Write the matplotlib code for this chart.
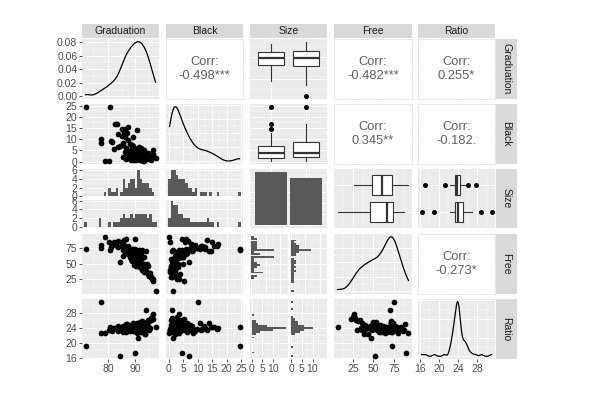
import numpy as np
import matplotlib.pyplot as plt
from matplotlib.ticker import FuncFormatter, MaxNLocator

plt.rcParams["font.family"] = ["Liberation Sans", "DejaVu Sans"]

# rows of the first Size level
grad_a = [78.9, 80.5, 80.6, 81.4, 82.3, 83.4, 83.6, 85.4, 85.6, 86.1, 86.2, 86.3, 86.6, 86.9, 87.3, 87.5,
          87.9, 88.2, 88.4, 88.7, 88.9, 89.2, 89.4, 89.6, 89.8, 90.1, 90.3, 90.82, 90.85, 91.0, 91.2, 91.4,
          91.55, 91.9, 92.1, 92.3, 92.5, 92.8, 93.1, 93.3, 93.6, 93.9, 94.2, 94.5, 94.8, 95.1, 95.5, 95.9, 96.4]
black_a = [0.2, 0.3, 24.5, 9.0, 5.5, 16.8, 12.2, 7.6, 8.5, 14.5, 4.3, 11.0, 6.0, 12.6, 9.8, 3.5,
           2.1, 8.0, 5.0, 6.8, 1.9, 7.2, 0.9, 4.0, 4.6, 5.8, 1.2, 3.2, 2.8, 1.5, 6.4, 4.9,
           0.6, 5.2, 2.5, 1.0, 4.1, 3.0, 0.5, 3.7, 2.0, 1.4, 2.6, 1.7, 2.3, 1.1, 1.6, 0.7, 3.4]
free_a = [93, 85, 72, 80, 84, 78, 76, 82, 72.5, 71, 68, 79, 89, 73, 75, 66,
          60, 71, 60.5, 73, 55, 71.5, 48, 61, 90, 65, 52, 59.5, 59, 47, 72, 61,
          45, 67, 57, 40, 60, 50, 36, 60, 43, 36.5, 49, 35, 46, 31, 35, 29, 26]
ratio_a = [22.6, 23.5, 24.3, 23.2, 24.0, 23.8, 24.5, 23.6, 22.9, 24.2, 23.9, 23.3, 25.0, 24.0, 23.7, 24.3,
           23.1, 24.6, 23.8, 24.1, 23.4, 24.8, 23.5, 23.2, 17.2, 24.0, 23.9, 24.4, 23.0, 21.2, 25.2, 23.6,
           24.1, 23.8, 22.8, 24.7, 23.6, 25.4, 23.3, 24.2, 22.4, 24.0, 25.6, 23.7, 24.5, 25.8, 23.9, 26.0, 27.7]

# rows of the second Size level
grad_b = [71.8, 77.3, 77.5, 81.0, 82.6, 83.7, 84.5, 85.0, 85.3, 85.6, 85.9, 86.3, 86.7, 87.1, 87.5,
          87.9, 88.3, 88.7, 89.0, 89.3, 89.6, 89.9, 90.2, 90.5, 90.8, 91.1, 91.4, 91.7, 92.0, 92.3,
          92.6, 92.9, 93.2, 93.5, 93.8, 94.1, 94.4, 94.8, 95.2, 95.6, 96.0, 96.4, 97.4]
black_b = [24.5, 10.0, 8.4, 9.2, 17.0, 6.6, 7.0, 14.8, 11.6, 2.1, 13.2, 12.4, 1.3, 4.5, 15.5,
           3.0, 0.8, 7.6, 2.7, 10.8, 1.6, 5.8, 0.6, 14.0, 3.4, 1.1, 4.8, 2.3, 6.2, 1.4,
           3.6, 0.4, 5.0, 2.0, 1.0, 3.3, 1.9, 4.0, 2.5, 1.2, 2.8, 5.4, 1.5]
free_b = [73, 75, 80, 77, 82, 86, 52, 84, 78, 62, 88, 76, 72, 71.5, 79,
          66, 58, 72, 68, 74, 55, 73, 46, 71, 64, 48, 69, 53, 67, 42,
          72, 40, 50, 38, 70, 45, 36, 33, 30, 28, 25, 22, 6]
ratio_b = [19.1, 31.0, 22.7, 23.5, 24.0, 23.2, 16.4, 24.3, 23.8, 24.5, 23.4, 24.1, 22.9, 25.0, 24.2,
           23.6, 24.8, 23.9, 23.1, 25.3, 24.4, 23.7, 24.0, 25.4, 22.5, 24.6, 23.3, 25.6, 23.0, 24.2,
           25.8, 23.8, 24.3, 22.3, 28.9, 24.1, 25.2, 26.0, 23.5, 26.6, 27.0, 26.3, 24.3]

var_names = ["Graduation", "Black", "Size", "Free", "Ratio"]
corr_labels = {(0, 1): "-0.498***", (0, 3): "-0.482***", (0, 4): "0.255*",
               (1, 3): "0.345**", (1, 4): "-0.182.", (3, 4): "-0.273*"}

groups = {
    "Graduation": (grad_a, grad_b),
    "Black": (black_a, black_b),
    "Free": (free_a, free_b),
    "Ratio": (ratio_a, ratio_b),
}
breaks = {
    "Graduation": ([80, 90], [75, 85, 95]),
    "Black": ([0, 5, 10, 15, 20, 25], [2.5, 7.5, 12.5, 17.5, 22.5]),
    "Free": ([25, 50, 75], [12.5, 37.5, 62.5, 87.5]),
    "Ratio": ([16, 20, 24, 28], [18, 22, 26, 30]),
}

W, H = 591, 397
col_x = [(82, 159), (166, 243), (250, 327), (334, 412), (418, 495)]
row_y = [(39, 99), (104, 164), (169, 228), (234, 294), (299, 359)]

GREY_BG = "#EBEBEB"
BAR = "#595959"
EDGE = "#333333"
TXT = "#4D4D4D"

fig = plt.figure(figsize=(W / 100, H / 100), dpi=100)


def add_ax(x0, y0, x1, y1):
    return fig.add_axes([x0 / W, 1 - y1 / H, (x1 - x0) / W, (y1 - y0) / H])


def all_vals(name):
    a, b = groups[name]
    return np.array(a + b, dtype=float)


def lims(v):
    lo, hi = min(v), max(v)
    d = (hi - lo) * 0.05
    return lo - d, hi + d


def style(ax, xlim, ylim, xb, yb, show_x, show_y):
    ax.set_facecolor(GREY_BG)
    for s in ax.spines.values():
        s.set_visible(False)
    ax.set_xlim(xlim)
    ax.set_ylim(ylim)
    ax.set_xticks(xb[0])
    ax.set_xticks(xb[1], minor=True)
    ax.set_yticks(yb[0])
    ax.set_yticks(yb[1], minor=True)
    ax.set_axisbelow(True)
    ax.grid(True, which="major", color="white", lw=0.7)
    ax.grid(True, which="minor", color="white", lw=0.35)
    ax.tick_params(which="minor", length=0)
    ax.tick_params(which="major", length=2.2, width=0.6, color=EDGE,
                   labelsize=7.5, labelcolor=TXT, pad=1.2)
    ax.tick_params(axis="x", bottom=show_x, labelbottom=show_x)
    ax.tick_params(axis="y", left=show_y, labelleft=show_y)
    fmt = FuncFormatter(lambda v, p: f"{v:g}")
    ax.xaxis.set_major_formatter(fmt)
    ax.yaxis.set_major_formatter(fmt)


def kde(v):
    v = np.asarray(v, dtype=float)
    n = len(v)
    q75, q25 = np.percentile(v, [75, 25])
    bw = 0.9 * min(v.std(ddof=1), (q75 - q25) / 1.34) * n ** -0.2
    xs = np.linspace(v.min(), v.max(), 512)
    ys = np.exp(-0.5 * ((xs[:, None] - v[None, :]) / bw) ** 2).sum(1) / (n * bw * np.sqrt(2 * np.pi))
    return xs, ys


def bin_edges(v):
    lo, hi = min(v), max(v)
    w = (hi - lo) / 29
    return lo - w / 2 + w * np.arange(31)


def boxes(ax, data, orient):
    ax.boxplot(data, positions=[1, 2], widths=0.75, orientation=orient, patch_artist=True,
               showcaps=False,
               boxprops=dict(facecolor="white", edgecolor=EDGE, lw=0.8),
               medianprops=dict(color=EDGE, lw=1.6),
               whiskerprops=dict(color=EDGE, lw=0.8),
               flierprops=dict(marker="o", markerfacecolor="black", markeredgecolor="none",
                               markersize=3.6))


size_counts = [len(grad_a), len(grad_b)]
cat_breaks = ([1, 2], [])

for i, rname in enumerate(var_names):
    y0, y1 = row_y[i]
    for j, cname in enumerate(var_names):
        x0, x1 = col_x[j]
        show_x = i == 4
        show_y = j == 0

        # upper triangle
        if i < j:
            if cname == "Size":
                ax = add_ax(x0, y0, x1, y1)
                style(ax, (0.4, 2.6), lims(all_vals(rname)), cat_breaks, breaks[rname], show_x, show_y)
                boxes(ax, list(groups[rname]), "vertical")
                ax.set_xticks([1, 2])
            elif rname == "Size":
                ax = add_ax(x0, y0, x1, y1)
                style(ax, lims(all_vals(cname)), (0.4, 2.6), breaks[cname], cat_breaks, show_x, show_y)
                a, b = groups[cname]
                boxes(ax, [b, a], "horizontal")
                ax.set_yticks([1, 2])
            else:
                ax = add_ax(x0, y0, x1, y1)
                ax.set_facecolor("white")
                ax.set_xticks([])
                ax.set_yticks([])
                for s in ax.spines.values():
                    s.set_color("#DDDDDD")
                    s.set_linestyle(":")
                    s.set_lw(0.6)
                ax.text(0.5, 0.5, "Corr:\n" + corr_labels[(i, j)], ha="center", va="center",
                        fontsize=9.3, color="#606060", linespacing=1.15, transform=ax.transAxes)
            continue

        # diagonal
        if i == j:
            ax = add_ax(x0, y0, x1, y1)
            if rname == "Size":
                top = max(size_counts)
                style(ax, (0.4, 2.6), (-0.05 * top, 1.05 * top), cat_breaks,
                      ([0, 10, 20, 30, 40], [5, 15, 25, 35, 45]), show_x, show_y)
                ax.bar([1, 2], size_counts, width=0.9, color=BAR)
            else:
                xs, ys = kde(all_vals(rname))
                top = ys.max()
                if i == 0:
                    yb = ([0, 0.02, 0.04, 0.06, 0.08], [0.01, 0.03, 0.05, 0.07])
                else:
                    mj = [t for t in MaxNLocator(4).tick_values(0, top) if 0 <= t <= top * 1.05]
                    mn = [(mj[k] + mj[k + 1]) / 2 for k in range(len(mj) - 1)]
                    yb = (mj, mn)
                style(ax, lims(all_vals(rname)), (-0.05 * top, 1.05 * top), breaks[rname], yb,
                      show_x, show_y)
                if i == 0:
                    ax.yaxis.set_major_formatter(FuncFormatter(lambda v, p: f"{v:.2f}"))
                ax.plot(xs, ys, color="black", lw=0.9)
            continue

        # lower triangle
        if rname == "Size":
            # vertical histograms faceted by Size, stacked
            edges = bin_edges(all_vals(cname))
            a, b = groups[cname]
            ca, _ = np.histogram(a, edges)
            cb, _ = np.histogram(b, edges)
            top = max(ca.max(), cb.max())
            ym = (y0 + y1) / 2
            for k, (vals, (fy0, fy1)) in enumerate([(a, (y0, ym - 1)), (b, (ym + 1, y1))]):
                ax = add_ax(x0, fy0, x1, fy1)
                style(ax, lims(all_vals(cname)), (-0.05 * top, 1.05 * top), breaks[cname],
                      ([0, 2, 4, 6], [1, 3, 5]), show_x and k == 1, show_y)
                ax.hist(vals, bins=edges, color=BAR)
        elif cname == "Size":
            # horizontal histograms faceted by Size, side by side
            edges = bin_edges(all_vals(rname))
            a, b = groups[rname]
            ca, _ = np.histogram(a, edges)
            cb, _ = np.histogram(b, edges)
            top = max(ca.max(), cb.max())
            xm = (x0 + x1) / 2
            for k, (vals, (fx0, fx1)) in enumerate([(a, (x0, xm - 1)), (b, (xm + 1, x1))]):
                ax = add_ax(fx0, y0, fx1, y1)
                style(ax, (-0.05 * top, 1.05 * top), lims(all_vals(rname)),
                      ([0, 5, 10], [2.5, 7.5, 12.5]), breaks[rname], show_x, show_y)
                ax.hist(vals, bins=edges, color=BAR, orientation="horizontal")
        else:
            ax = add_ax(x0, y0, x1, y1)
            style(ax, lims(all_vals(cname)), lims(all_vals(rname)), breaks[cname], breaks[rname],
                  show_x, show_y)
            ax.scatter(all_vals(cname), all_vals(rname), s=17, c="black", lw=0)

# strips
for j, name in enumerate(var_names):
    x0, x1 = col_x[j]
    ax = add_ax(x0, 24, x1, 38)
    ax.set_facecolor("#D9D9D9")
    ax.set_xticks([])
    ax.set_yticks([])
    for s in ax.spines.values():
        s.set_visible(False)
    ax.text(0.5, 0.5, name, ha="center", va="center", fontsize=7.5, color="#1A1A1A",
            transform=ax.transAxes)

for i, name in enumerate(var_names):
    y0, y1 = row_y[i]
    ax = add_ax(496, y0, 517, y1)
    ax.set_facecolor("#D9D9D9")
    ax.set_xticks([])
    ax.set_yticks([])
    for s in ax.spines.values():
        s.set_visible(False)
    ax.text(0.5, 0.5, name, ha="center", va="center", fontsize=7.5, color="#1A1A1A",
            rotation=-90, transform=ax.transAxes)

fig.savefig("out.png", dpi=100)
